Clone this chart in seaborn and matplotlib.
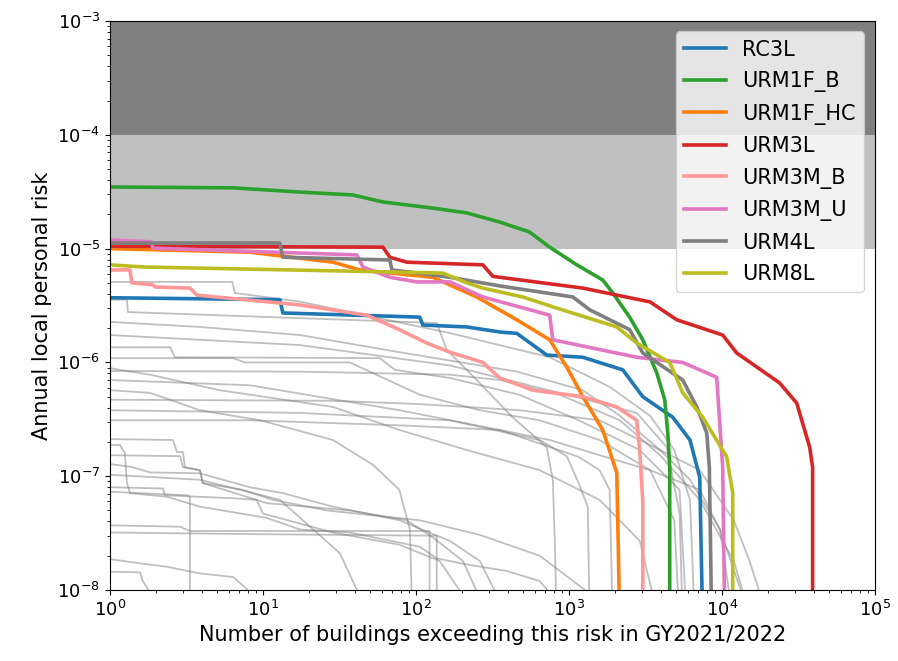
import seaborn as sns
import matplotlib
matplotlib.use("Agg")
import matplotlib.pyplot as plt
import pandas as pd

# highlighted typologies: number of buildings exceeding a risk level vs the risk
typologies = ["RC3L", "URM1F_B", "URM1F_HC", "URM3L", "URM3M_B", "URM3M_U", "URM4L", "URM8L"]
colors = ["#1f77b4", "#2ca02c", "#ff7f0e", "#d62728", "#ff9896", "#e377c2", "#7f7f7f", "#bcbd22"]

rc3l_n = [1, 12.9, 13.5, 106, 111, 215, 354, 457, 718, 1235, 2255, 3047, 4780, 6200, 7180, 7510]
rc3l_risk = [3.7e-6, 3.56e-6, 2.72e-6, 2.5e-6, 2.13e-6, 2.05e-6, 1.85e-6, 1.8e-6, 1.16e-6, 1.11e-6,
             8.6e-7, 5.0e-7, 3.3e-7, 2.08e-7, 9.8e-8, 5e-9]

urm1f_b_n = [1, 6.4, 17.5, 38.7, 60.9, 129, 215, 354, 553, 750, 1128, 1667, 1940, 2500, 3047,
             3760, 4240, 4440, 4570, 4570]
urm1f_b_risk = [3.48e-5, 3.42e-5, 3.14e-5, 2.96e-5, 2.57e-5, 2.27e-5, 2.06e-5, 1.71e-5, 1.40e-5,
                1.03e-5, 7.2e-6, 5.3e-6, 4.07e-6, 2.5e-6, 1.58e-6, 8.1e-7, 4.7e-7, 2.4e-7, 1.2e-7, 5e-9]

urm1f_hc_n = [1, 8.2, 28.7, 43, 129, 250, 457, 750, 970, 1235, 1667, 2060, 2155]
urm1f_hc_risk = [1.0e-5, 9.3e-6, 7.6e-6, 6.5e-6, 5.6e-6, 3.76e-6, 2.37e-6, 1.58e-6, 9.1e-7, 5.0e-7,
                 2.55e-7, 1.07e-7, 5e-9]

urm3l_n = [1, 60.9, 67.6, 87.3, 274, 319, 1235, 3400, 5080, 10150, 12530, 23900, 30900, 37600,
           39300, 39300]
urm3l_risk = [1.05e-5, 1.03e-5, 8.4e-6, 7.6e-6, 7.2e-6, 5.7e-6, 4.5e-6, 3.4e-6, 2.37e-6, 1.74e-6,
              1.21e-6, 6.6e-7, 4.4e-7, 1.8e-7, 1.2e-7, 5e-9]

urm3m_b_n = [1, 1.35, 1.39, 1.91, 1.97, 3.33, 3.7, 17.5, 47.9, 78, 118, 167, 274, 354, 582, 1235,
             2060, 2780, 2910, 3047, 3047]
urm3m_b_risk = [6.5e-6, 6.5e-6, 5.0e-6, 4.8e-6, 4.6e-6, 4.5e-6, 3.9e-6, 3.2e-6, 2.6e-6, 1.94e-6,
                1.48e-6, 1.23e-6, 1.0e-6, 7.3e-7, 5.7e-7, 5.0e-7, 4.06e-7, 3.1e-7, 1.7e-7, 6e-8, 5e-9]

urm3m_u_n = [1, 1.85, 1.91, 41.1, 45, 67.6, 101, 167, 274, 750, 786, 2780, 5560, 9270, 10150, 10470]
urm3m_u_risk = [1.19e-5, 1.15e-5, 1.01e-5, 8.8e-6, 6.9e-6, 5.6e-6, 5.1e-6, 5.1e-6, 3.76e-6, 2.6e-6,
                1.58e-6, 1.11e-6, 1.0e-6, 7.4e-7, 1.2e-7, 5e-9]

urm4l_n = [1, 12.9, 13.5, 67.6, 69.7, 167, 354, 1062, 1370, 2500, 3047, 5560, 6870, 7980, 8300, 8600]
urm4l_risk = [1.12e-5, 1.12e-5, 8.4e-6, 7.95e-6, 6.5e-6, 5.6e-6, 4.7e-6, 3.76e-6, 2.9e-6, 1.94e-6,
              1.21e-6, 7e-7, 4.06e-7, 2.4e-7, 1.2e-7, 5e-9]

urm8l_n = [1, 1.64, 150, 215, 274, 500, 835, 2060, 2780, 4570, 5560, 7510, 10780, 11800, 11800]
urm8l_risk = [7.2e-6, 6.9e-6, 6.1e-6, 5.0e-6, 4.5e-6, 3.76e-6, 3.0e-6, 2.05e-6, 1.48e-6, 1.0e-6,
              5.4e-7, 3.3e-7, 1.48e-7, 7.1e-8, 5e-9]

# all other typologies, drawn thin in grey
gray_n = [
    [1, 6.3, 6.56, 17.5, 167, 750, 1850, 3400, 4900, 6200, 6680],
    [1, 1.29, 1.31, 137, 159, 250, 429, 718, 786, 810, 835],
    [1, 3.87, 17.5, 78, 457, 1235, 2155, 3950, 6200, 9740, 15900],
    [1, 2.47, 2.66, 58, 73, 167, 475, 1160, 2910, 5300, 5920],
    [1, 6.4, 7.6, 37, 106, 262, 645, 1590, 3400, 4900, 5300],
    [1, 1.83, 5.2, 28.7, 78, 215, 645, 1590, 2910, 3950],
    [1, 17.5, 167, 354, 874, 2155, 3950, 7180, 12000, 15900],
    [1, 1.83, 3.87, 9.6, 28.7, 52.4, 78, 91.4, 95],
    [1, 28.7, 106, 475, 1590, 3400, 7180, 12000, 15200, 20600],
    [1, 8.2, 78, 354, 750, 1590, 3400, 7180, 9740, 12000],
    [1, 2.58, 2.74, 3.0, 3.09, 3.87, 4.05, 10.6, 37, 87, 129, 203, 280],
    [1, 1.16, 1.25, 1.29, 1.35, 2.36, 3.87, 10.6, 17.5, 37, 106, 137, 203, 392, 645, 835],
    [1, 2.87, 3.0, 3.87, 4.05, 7.4, 11.6, 26.2, 106, 262, 645, 1590],
    [1, 1.41, 1.83, 3.87, 8.2, 13.5, 28.7, 78, 167, 262, 354],
    [1, 2.22, 2.29, 6.4, 9.1, 10, 28.7, 78, 143, 215],
    [1, 3.18, 3.33, 3.33],
    [1, 2.87, 3.33, 123, 123],
    [1, 8.2, 137, 137],
    [1, 1.41, 2.36, 3.87, 6.4, 9.6],
    [1, 1.57, 1.64, 1.97],
    [1, 17.5, 167, 1160, 2780, 4370, 5300, 5560],
    [1, 17.5, 167, 645, 970, 1160, 1330, 1370],
    [1, 8.2, 78, 354, 1160, 1590, 1850, 1940],
    [1, 3.87, 12.9, 31.9, 44.4],
]
gray_risk = [
    [5.1e-6, 5.1e-6, 4.07e-6, 3.42e-6, 1.81e-6, 1.11e-6, 6.1e-7, 3.4e-7, 1.7e-7, 6.2e-8, 5e-9],
    [3.56e-6, 3.56e-6, 2.77e-6, 2.22e-6, 1.29e-6, 7.0e-7, 3.3e-7, 1.8e-7, 9.3e-8, 2.7e-8, 5e-9],
    [2.27e-6, 2.05e-6, 1.74e-6, 1.23e-6, 8.3e-7, 5.7e-7, 3.4e-7, 1.7e-7, 9.3e-8, 3.4e-8, 5e-9],
    [1.36e-6, 1.36e-6, 1.11e-6, 1.09e-6, 8.6e-7, 7.3e-7, 5.2e-7, 3.1e-7, 1.7e-7, 7.6e-8, 5e-9],
    [1.09e-6, 1.09e-6, 1.0e-6, 1.0e-6, 5.2e-7, 3.8e-7, 3.1e-7, 2.08e-7, 1.13e-7, 4.1e-8, 5e-9],
    [8.9e-7, 7.8e-7, 5.7e-7, 4.06e-7, 2.55e-7, 1.7e-7, 1.13e-7, 6.2e-8, 2.7e-8, 5e-9],
    [8.4e-7, 8.3e-7, 7.8e-7, 7.0e-7, 5.2e-7, 3.1e-7, 1.53e-7, 6.2e-8, 1.8e-8, 5e-9],
    [5.7e-7, 5.4e-7, 3.8e-7, 3.1e-7, 2.08e-7, 1.26e-7, 7.6e-8, 3.4e-8, 5e-9],
    [4.7e-7, 4.6e-7, 4.3e-7, 3.8e-7, 3.1e-7, 1.88e-7, 1.13e-7, 4.1e-8, 1.8e-8, 5e-9],
    [3.1e-7, 3.1e-7, 2.8e-7, 2.55e-7, 2.08e-7, 1.53e-7, 1.13e-7, 7.6e-8, 3.4e-8, 5e-9],
    [2.12e-7, 2.08e-7, 1.63e-7, 1.63e-7, 1.2e-7, 1.13e-7, 8.7e-8, 5.8e-8, 5.0e-8, 4.1e-8, 2.9e-8,
     1.8e-8, 7e-9],
    [1.88e-7, 1.88e-7, 1.6e-7, 8.7e-8, 7.1e-8, 6.6e-8, 5.4e-8, 4.3e-8, 3.4e-8, 3.2e-8, 2.4e-8,
     1.9e-8, 1.7e-8, 1.47e-8, 1.2e-8, 8e-9],
    [1.53e-7, 1.5e-7, 1.2e-7, 1.13e-7, 8.7e-8, 7.6e-8, 6.2e-8, 5.0e-8, 4.1e-8, 3.05e-8, 2.0e-8, 8e-9],
    [1.28e-7, 1.2e-7, 1.08e-7, 1.06e-7, 8.0e-8, 7.1e-8, 5.4e-8, 4.1e-8, 2.7e-8, 1.8e-8, 8e-9],
    [8.0e-8, 7.8e-8, 6.8e-8, 6.4e-8, 6.2e-8, 4.7e-8, 3.2e-8, 2.5e-8, 1.8e-8, 8e-9],
    [7.3e-8, 6.8e-8, 6.6e-8, 5e-9],
    [3.7e-8, 3.6e-8, 3.3e-8, 3.3e-8, 5e-9],
    [3.2e-8, 3.1e-8, 3.0e-8, 5e-9],
    [1.87e-8, 1.75e-8, 1.6e-8, 1.4e-8, 1.3e-8, 8e-9],
    [1.45e-8, 1.43e-8, 1.2e-8, 8e-9],
    [1.74e-6, 1.42e-6, 9.4e-7, 4.9e-7, 3.6e-7, 1.8e-7, 4.75e-8, 5e-9],
    [3.8e-7, 3.6e-7, 3.1e-7, 2.08e-7, 1.5e-7, 8.7e-8, 5.4e-8, 5e-9],
    [7.0e-7, 6.3e-7, 3.8e-7, 2.55e-7, 1.48e-7, 1.13e-7, 7.6e-8, 5e-9],
    [1.03e-7, 9.3e-8, 6.2e-8, 2.1e-8, 8e-9],
]

main_n = [rc3l_n, urm1f_b_n, urm1f_hc_n, urm3l_n, urm3m_b_n, urm3m_u_n, urm4l_n, urm8l_n]
main_risk = [rc3l_risk, urm1f_b_risk, urm1f_hc_risk, urm3l_risk, urm3m_b_risk, urm3m_u_risk,
             urm4l_risk, urm8l_risk]

df_main = pd.concat([pd.DataFrame({"n": n, "risk": r, "typology": t})
                     for n, r, t in zip(main_n, main_risk, typologies)], ignore_index=True)
df_gray = pd.concat([pd.DataFrame({"n": n, "risk": r, "line": i})
                     for i, (n, r) in enumerate(zip(gray_n, gray_risk))], ignore_index=True)

fig = plt.figure(figsize=(8.98, 6.61), dpi=100)
ax = fig.add_axes([0.1225, 0.1074, 0.8515, 0.8608])

# risk bands
ax.axhspan(1e-4, 1e-3, color="#808080", lw=0, zorder=0)
ax.axhspan(1e-5, 1e-4, color="#c0c0c0", lw=0, zorder=0)

sns.lineplot(data=df_gray, x="n", y="risk", units="line", estimator=None, sort=False,
             color="gray", alpha=0.5, lw=1.3, ax=ax, legend=False)
sns.lineplot(data=df_main, x="n", y="risk", hue="typology", palette=colors, hue_order=typologies,
             estimator=None, sort=False, lw=2.6, ax=ax)

ax.set_xscale("log")
ax.set_yscale("log")
ax.set_xlim(1, 1e5)
ax.set_ylim(1e-8, 1e-3)
ax.tick_params(labelsize=13)

sns.move_legend(ax, "upper right", title=None, fontsize=15, labelspacing=0.55)

plt.xlabel("Number of buildings exceeding this risk in GY2021/2022", size=15)
plt.ylabel("Annual local personal risk", size=15)

plt.savefig("out.png", dpi=100)
